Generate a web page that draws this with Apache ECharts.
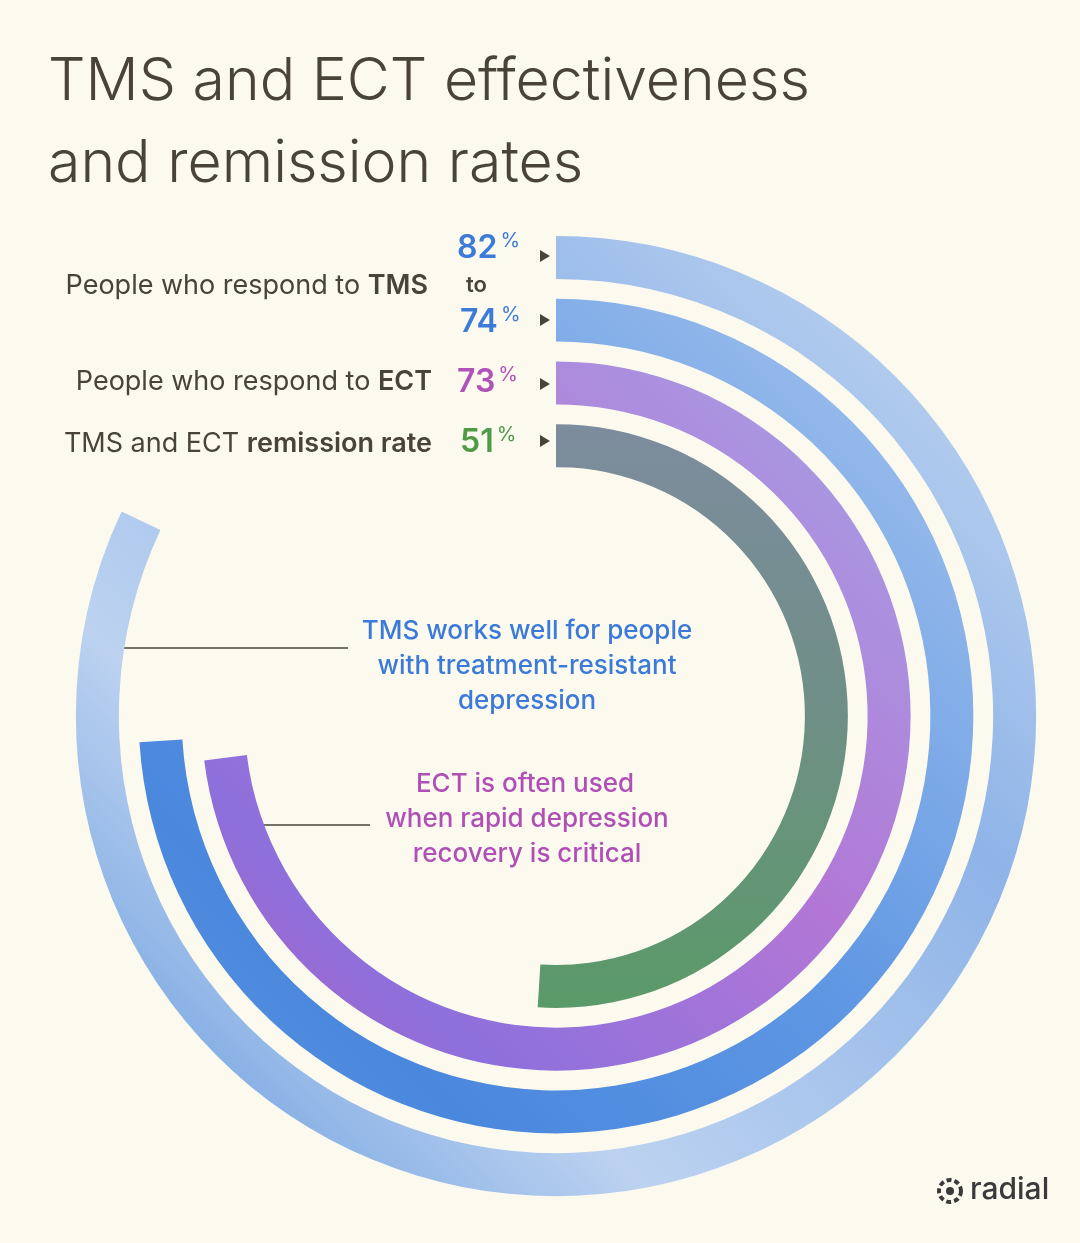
<!DOCTYPE html>
<html>
<head>
<meta charset="utf-8">
<script src="https://cdn.jsdelivr.net/npm/echarts@6/dist/echarts.min.js"></script>
<style>
  html, body { margin: 0; padding: 0; background: #fcfaef; }
  #main { width: 1080px; height: 1243px; }
</style>
</head>
<body>
<div id="main"></div>
<script>
// data, innermost ring first
var categories = ['TMS and ECT remission rate', 'People who respond to ECT', 'People who respond to TMS (low)', 'People who respond to TMS (high)']
var values = [51, 73, 74, 82]

var G = echarts.graphic.LinearGradient
var ringColors = [
  new G(0, 0, 0, 1, [{ offset: 0, color: '#7d8c9e' }, { offset: 0.5, color: '#6f8f86' }, { offset: 1, color: '#5a9a68' }]),
  new G(1, 0, 0, 1, [{ offset: 0, color: '#a6a4e6' }, { offset: 0.45, color: '#b277d6' }, { offset: 0.8, color: '#8d70dc' }, { offset: 1, color: '#b25fc0' }]),
  new G(1, 0, 0, 1, [{ offset: 0, color: '#a9c6ee' }, { offset: 0.5, color: '#5f97e3' }, { offset: 0.8, color: '#4a88de' }, { offset: 1, color: '#5b93dc' }]),
  new G(1, 0, 0, 1, [{ offset: 0, color: '#c9dbf2' }, { offset: 0.35, color: '#8fb4e8' }, { offset: 0.7, color: '#bcd2f0' }, { offset: 1, color: '#5b93dc' }])
]

var chart = echarts.init(document.getElementById('main'))
var font = 'Inter, "Noto Sans", sans-serif'

function txt (x, y, text, size, color, weight, align) {
  return {
    type: 'text', x: x, y: y,
    style: { text: text, fontSize: size, fill: color, fontWeight: weight || 400, fontFamily: font, align: align || 'left', verticalAlign: 'middle' }
  }
}
function rich (x, y, parts, align) {
  return {
    type: 'text', x: x, y: y,
    style: {
      text: parts.map(function (p) { return '{' + p[0] + '|' + p[1] + '}' }).join(''),
      align: align || 'right', verticalAlign: 'middle', fontFamily: font,
      rich: {
        n: { fontSize: 27, fill: '#4a4338', fontFamily: font },
        b: { fontSize: 27, fill: '#4a4338', fontWeight: 600, fontFamily: font }
      }
    }
  }
}
function pct (x, y, num, color) {
  return {
    type: 'text', x: x, y: y,
    style: {
      text: '{a|' + num + '}{p|%}', verticalAlign: 'middle', fontFamily: font,
      rich: {
        a: { fontSize: 32, fill: color, fontWeight: 600, fontFamily: font },
        p: { fontSize: 20, fill: color, fontFamily: font, verticalAlign: 'top', padding: [0, 0, 14, 3] }
      }
    }
  }
}
function arrow (y) {
  return { type: 'polygon', shape: { points: [[540, y - 6], [550, y], [540, y + 6]] }, style: { fill: '#4a4338' } }
}
function line (x1, x2, y) {
  return { type: 'line', shape: { x1: x1, y1: y, x2: x2, y2: y }, style: { stroke: '#4a4338', lineWidth: 1.5 } }
}

var option = {
  backgroundColor: '#fcfaef',
  polar: { center: [556, 716], radius: [239, 490] },
  angleAxis: { max: 100, startAngle: 90, clockwise: true, show: false },
  radiusAxis: { type: 'category', data: categories, show: false },
  series: [{
    type: 'bar',
    coordinateSystem: 'polar',
    barWidth: 43,
    data: values.map(function (v, i) { return { value: v, itemStyle: { color: ringColors[i] } } })
  }],
  graphic: [
    txt(48, 82, 'TMS and ECT effectiveness', 59, '#4a4338', 300),
    txt(48, 164, 'and remission rates', 59, '#4a4338', 300),
    rich(428, 286, [['n', 'People who respond to '], ['b', 'TMS']]),
    rich(432, 382, [['n', 'People who respond to '], ['b', 'ECT']]),
    rich(432, 444, [['n', 'TMS and ECT '], ['b', 'remission rate']]),
    pct(457, 248, '82', '#3d7bd8'),
    txt(466, 285, 'to', 22, '#4a4338', 600),
    pct(460, 322, '74', '#3d7bd8'),
    pct(457, 382, '73', '#b052b8'),
    pct(460, 442, '51', '#4e9a45'),
    arrow(256), arrow(320), arrow(384), arrow(441),
    line(118, 348, 648),
    txt(527, 631, 'TMS works well for people', 26, '#3b7ad8', 500, 'center'),
    txt(527, 666, 'with treatment-resistant', 26, '#3b7ad8', 500, 'center'),
    txt(527, 701, 'depression', 26, '#3b7ad8', 500, 'center'),
    line(258, 370, 825),
    txt(525, 784, 'ECT is often used', 26, '#b04fb5', 500, 'center'),
    txt(527, 819, 'when rapid depression', 26, '#b04fb5', 500, 'center'),
    txt(527, 854, 'recovery is critical', 26, '#b04fb5', 500, 'center'),
    { type: 'circle', shape: { cx: 950, cy: 1191, r: 11 }, style: { fill: 'none', stroke: '#3a3a3a', lineWidth: 4, lineDash: [5, 3] } },
    { type: 'circle', shape: { cx: 950, cy: 1191, r: 4 }, style: { fill: '#3a3a3a' } },
    txt(970, 1190, 'radial', 30, '#3a3a3a', 500)
  ]
}
chart.setOption(option)
</script>
</body>
</html>
